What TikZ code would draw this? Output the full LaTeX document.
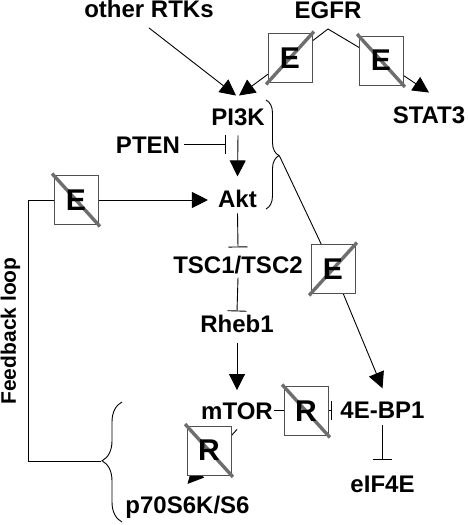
\documentclass[tikz,border=0pt]{standalone}
\usepackage{fontspec}
\setmainfont{Liberation Sans}
\usetikzlibrary{arrows.meta,calc,backgrounds,decorations.pathreplacing}
\definecolor{boxgray}{RGB}{80,80,80}
\definecolor{slashgray}{RGB}{110,110,110}
\begin{document}
\begin{tikzpicture}[x=1pt,y=-1pt,
  lbl/.style={font=\fontsize{24}{28}\selectfont\bfseries, inner sep=0pt, anchor=base},
  ebox/.style={draw=boxgray, line width=0.9pt, fill=white, minimum width=44pt, minimum height=49pt, inner sep=0pt},
  bletter/.style={font=\fontsize{30}{34}\selectfont\bfseries, inner sep=0pt},
  slash/.style={draw=slashgray, line width=3.4pt},
  conn/.style={line width=0.9pt},
  arr/.style={conn,-{Triangle[length=16pt,width=16pt]}},
  inh/.style={conn,-{Bar[width=19pt]}},
  brc/.style={conn, decorate, decoration={brace, amplitude=#1, aspect=0.51}},
]
\useasboundingbox (0,0) rectangle (468,525);
% labels
\node[lbl] (rtk) at (149,17.5) {other RTKs};
\node[lbl] (egfr) at (328,18) {EGFR};
\node[lbl] (stat) at (429,123) {STAT3};
\node[lbl] (pi3k) at (238,125) {PI3K};
\node[lbl] (pten) at (148,153) {PTEN};
\node[lbl] (akt) at (237.5,207) {Akt};
\node[lbl] (tsc) at (238,273) {TSC1/TSC2};
\node[lbl] (rheb) at (237,332) {Rheb1};
\node[lbl] (mtor) at (237,419) {mTOR};
\node[lbl] (bp) at (382.5,418) {4E-BP1};
\node[lbl] (eif) at (382.5,492) {eIF4E};
\node[lbl] (p70) at (187.5,513) {p70S6K/S6};
\node[lbl, font=\fontsize{21}{25}\selectfont\bfseries, rotate=90] (fb) at (16,331) {Feedback loop};
% boxes
\node[ebox] (e1) at (290,58) {};
\node[ebox] (e2) at (381,60.5) {};
\node[ebox] (e3) at (333,269) {};
\node[ebox] (e4) at (76,200) {};
\node[ebox] (r1) at (306,411) {};
\node[ebox] (r2) at (209,450.5) {};
% slashes
\draw[slash] ($(e1.south west)+(-1.5,1.5)$) -- ($(e1.north east)+(1.5,-1.5)$);
\draw[slash] ($(e2.north west)+(-1.5,-1.5)$) -- ($(e2.south east)+(1.5,1.5)$);
\draw[slash] ($(e3.south west)+(-1.5,1.5)$) -- ($(e3.north east)+(1.5,-1.5)$);
\draw[slash] ($(e4.north west)+(-1.5,-1.5)$) -- ($(e4.south east)+(1.5,1.5)$);
\draw[slash] ($(r1.north west)+(-1.5,-1.5)$) -- ($(r1.south east)+(1.5,1.5)$);
\draw[slash] ($(r2.north west)+(-1.5,-1.5)$) -- ($(r2.south east)+(1.5,1.5)$);
% box letters
\node[bletter] (e1t) at (e1.center) {E};
\node[bletter] (e2t) at (e2.center) {E};
\node[bletter] (e3t) at (e3.center) {E};
\node[bletter] (e4t) at (e4.center) {E};
\node[bletter] (r1t) at (r1.center) {R};
\node[bletter] (r2t) at (r2.center) {R};
% connectors
\begin{scope}[on background layer]
\coordinate (apex) at (328,29);
\coordinate (lbtip) at (101,461);
\coordinate (rbtip) at (279.5,156);
\draw[arr] ($(rtk.south)+(0,10)$) -- ($(pi3k.north)+(-2,-12.5)$);
\draw[conn] (e1.center) -- (apex) -- (e2.center);
\draw[arr] (e1.center) -- ($(pi3k.north)+(1,-12.5)$);
\draw[arr] (e2.center) -- ($(stat.north)+(0,-13.5)$);
\draw[inh] ($(pten.east)+(4,0)$) -- ($(pten.east)+(46,0)$);
\draw[arr] ($(pi3k.south)+(0,10)$) -- ($(akt.north)+(0,-13)$);
\draw[arr] (e4.center) -- ($(akt.west |- e4.center)+(-10,0)$);
\draw[conn] (e4.center) -| ($(lbtip)+(-73,0)$) -- (lbtip);
\draw[brc=20] (122,522) -- (122,402);
\draw[brc=13] (266,100) -- (266,209);
\draw[conn] (rbtip) -- (e3.center);
\draw[arr] (e3.center) -- ($(bp.north)+(0,-13)$);
\draw[inh] ($(akt.south)+(0,6)$) -- ($(tsc.north)+(0,-8)$);
\draw[inh] ($(tsc.south)+(0,4)$) -- ($(rheb.north)+(0,-3)$);
\draw[arr] ($(rheb.south)+(0,11)$) -- ($(mtor.north)+(0,-12)$);
\draw[inh] ($(mtor.east)+(1,0)$) -- ($(mtor.east -| bp.west)+(-8,0)$);
\draw[inh] ($(bp.south)+(0,7)$) -- ($(eif.north)+(0,-15)$);
\draw[arr] ($(mtor.south)+(0,10)$) -- ($(p70.north)+(0,-11.5)$);
\end{scope}
\end{tikzpicture}
\end{document}
